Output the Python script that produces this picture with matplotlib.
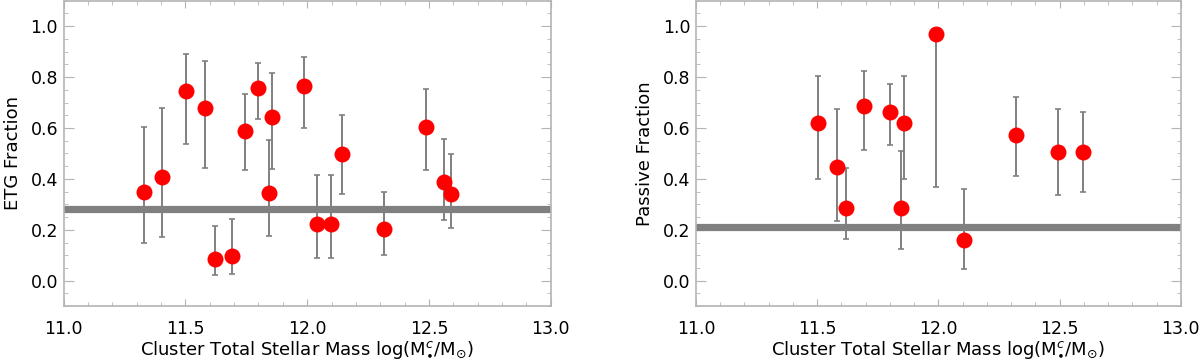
import matplotlib

matplotlib.use("Agg")
import matplotlib.pyplot as plt
from matplotlib.ticker import MultipleLocator

# left panel: ETG fraction
etg_mass = [11.33, 11.405, 11.502, 11.58, 11.62, 11.692, 11.746, 11.798, 11.855,
            11.842, 11.987, 12.04, 12.099, 12.144, 12.314, 12.486, 12.56, 12.589]
etg_frac = [0.349, 0.407, 0.744, 0.680, 0.084, 0.096, 0.590, 0.758, 0.643,
            0.344, 0.764, 0.222, 0.222, 0.496, 0.203, 0.603, 0.387, 0.340]
etg_hi = [0.604, 0.680, 0.890, 0.863, 0.215, 0.242, 0.732, 0.854, 0.816,
          0.551, 0.880, 0.417, 0.417, 0.651, 0.347, 0.753, 0.558, 0.496]
etg_lo = [0.147, 0.171, 0.536, 0.441, 0.021, 0.025, 0.434, 0.635, 0.438,
          0.174, 0.601, 0.090, 0.090, 0.341, 0.100, 0.434, 0.238, 0.208]
etg_field = 0.28

# right panel: passive fraction
pas_mass = [11.504, 11.581, 11.62, 11.693, 11.80, 11.857, 11.844, 11.992,
            12.104, 12.32, 12.492, 12.598]
pas_frac = [0.619, 0.448, 0.286, 0.685, 0.663, 0.619, 0.286, 0.970,
            0.158, 0.572, 0.506, 0.506]
pas_hi = [0.806, 0.675, 0.441, 0.823, 0.774, 0.806, 0.509, 0.970,
          0.361, 0.720, 0.674, 0.661]
pas_lo = [0.400, 0.236, 0.163, 0.514, 0.534, 0.400, 0.124, 0.369,
          0.047, 0.411, 0.337, 0.350]
pas_field = 0.209

xlabel = r"Cluster Total Stellar Mass log(M$^{c}_{\bullet}$/M$_{\odot}$)"

plt.rcParams["font.family"] = ["DejaVu Sans"]
plt.rcParams["mathtext.fontset"] = "dejavusans"

SPINE = "#b4b4b4"


def draw_panel(ax, x, y, lo, hi, field, ylabel):
    yerr = [[v - l for v, l in zip(y, lo)], [h - v for v, h in zip(y, hi)]]
    ax.errorbar(x, y, yerr=yerr, fmt="none", ecolor="#808080", elinewidth=1.4,
                capsize=2.5, capthick=1.2, zorder=2)
    ax.axhline(field, color="#808080", linewidth=5.2, zorder=2.5)
    ax.plot(x, y, "o", color="red", markersize=11.5, markeredgewidth=0, zorder=3)

    ax.set_xlim(11.0, 13.0)
    ax.set_ylim(-0.1, 1.1)
    ax.xaxis.set_major_locator(MultipleLocator(0.5))
    ax.xaxis.set_minor_locator(MultipleLocator(0.1))
    ax.yaxis.set_major_locator(MultipleLocator(0.2))
    ax.yaxis.set_minor_locator(MultipleLocator(0.05))
    ax.xaxis.set_major_formatter(lambda v, p: f"{v:.1f}")
    ax.yaxis.set_major_formatter(lambda v, p: f"{v:.1f}")
    ax.tick_params(which="both", direction="in", top=True, right=True,
                   color=SPINE, labelsize=12.5)
    ax.tick_params(axis="x", which="major", length=5, pad=10)
    ax.tick_params(axis="y", which="major", length=7, pad=4)
    ax.tick_params(which="minor", length=3)
    for spine in ax.spines.values():
        spine.set_color(SPINE)
        spine.set_linewidth(1.2)
    ax.set_xlabel(xlabel, fontsize=13, labelpad=1)
    ax.set_ylabel(ylabel, fontsize=13, labelpad=6)


def main() -> int:
    fig = plt.figure(figsize=(12, 3.61), dpi=100)
    ax1 = fig.add_axes([0.053, 0.152, 0.406, 0.846])
    ax2 = fig.add_axes([0.580, 0.152, 0.404, 0.846])
    draw_panel(ax1, etg_mass, etg_frac, etg_lo, etg_hi, etg_field, "ETG Fraction")
    draw_panel(ax2, pas_mass, pas_frac, pas_lo, pas_hi, pas_field, "Passive Fraction")
    fig.savefig("out.png", dpi=100)
    plt.close(fig)
    return 0


if __name__ == "__main__":
    raise SystemExit(main())
